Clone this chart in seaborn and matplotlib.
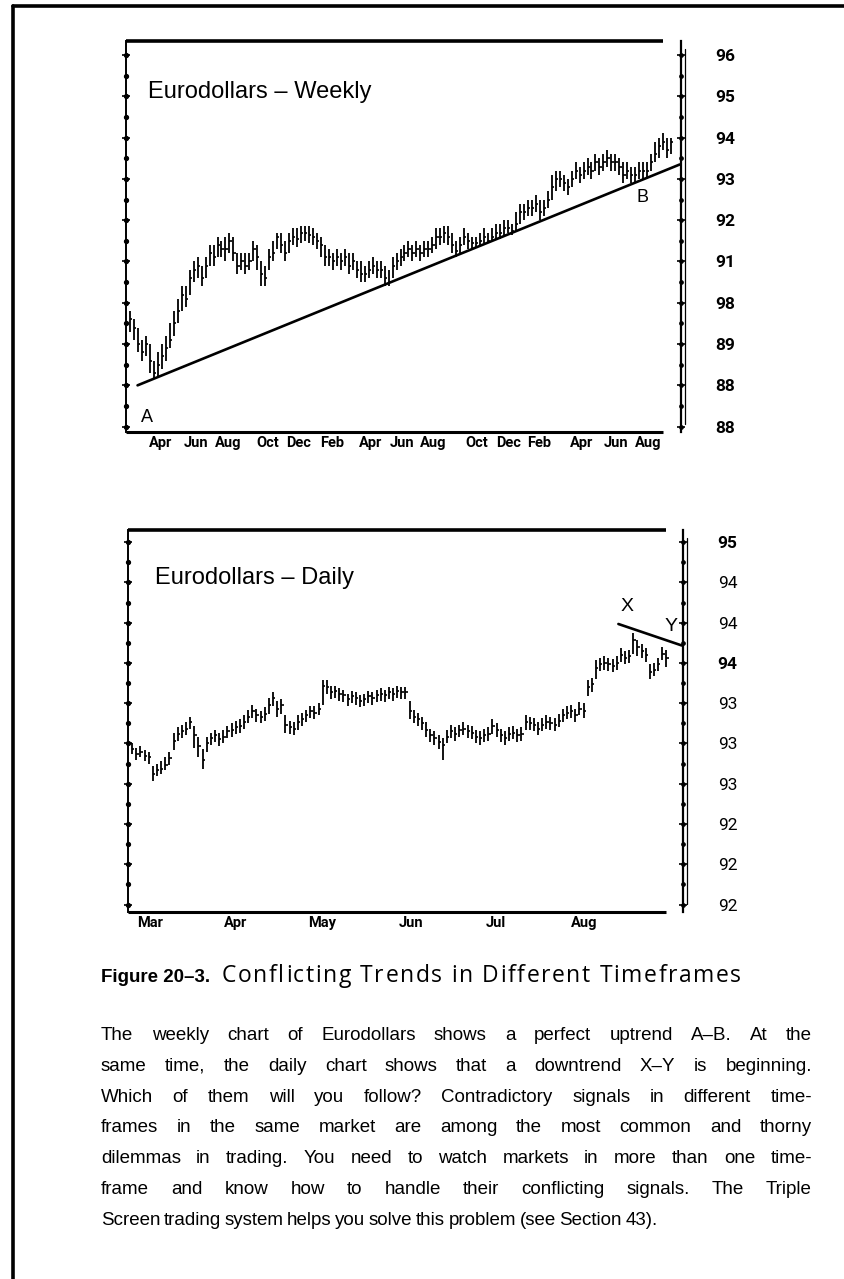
import matplotlib
matplotlib.use("Agg")
import numpy as np
import pandas as pd
import seaborn as sns
from matplotlib import pyplot as plt
from matplotlib.lines import Line2D

sns.set_theme(style="white")
plt.rcParams['font.family'] = ['Liberation Sans', 'DejaVu Sans']
plt.rcParams['text.color'] = 'black'
plt.rcParams['xtick.color'] = 'black'
plt.rcParams['ytick.color'] = 'black'
plt.rcParams['axes.edgecolor'] = 'black'

# ---------------- weekly chart data (price) ----------------
wk_close = [89.6, 89.4, 89.0, 88.8, 89.0, 88.6, 88.3, 88.5, 88.7, 88.9,
            89.1, 89.5, 89.8, 90.2, 90.1, 90.6, 90.8, 90.9, 90.6, 90.9,
            91.2, 91.1, 91.4, 91.3, 91.3, 91.5, 91.2, 90.9, 91.0, 90.9,
            91.0, 91.3, 91.1, 90.7, 90.6, 91.1, 91.2, 91.6, 91.4, 91.2,
            91.5, 91.6, 91.55, 91.7, 91.7, 91.65, 91.6, 91.5, 91.4, 91.1,
            91.1, 91.0, 91.1, 91.0, 91.1, 90.9, 91.0, 90.8, 90.7, 90.7,
            90.8, 90.9, 90.8, 90.8, 90.6, 90.5, 90.9, 91.0, 91.1, 91.2,
            91.3, 91.2, 91.3, 91.2, 91.3, 91.3, 91.4, 91.6, 91.6, 91.7,
            91.6, 91.4, 91.25, 91.4, 91.6, 91.5, 91.45, 91.45, 91.5, 91.6,
            91.5, 91.6, 91.7, 91.7, 91.8, 91.8, 91.75, 91.9, 92.2, 92.2,
            92.3, 92.3, 92.4, 92.2, 92.3, 92.5, 92.8, 93.0, 93.0, 92.9,
            92.8, 93.0, 93.2, 93.1, 93.2, 93.3, 93.2, 93.4, 93.3, 93.4,
            93.5, 93.4, 93.4, 93.3, 93.1, 93.2, 93.1, 93.1, 93.2, 93.2,
            93.2, 93.4, 93.6, 93.8, 93.9, 93.7, 93.9]
wk_high = [89.8, 89.6, 89.4, 89.1, 89.2, 89.0, 88.6, 88.8, 89.0, 89.2,
           89.5, 89.8, 90.1, 90.4, 90.4, 90.8, 91.0, 91.1, 90.9, 91.1,
           91.4, 91.4, 91.6, 91.5, 91.6, 91.7, 91.6, 91.2, 91.2, 91.2,
           91.2, 91.5, 91.4, 91.0, 90.9, 91.3, 91.5, 91.7, 91.7, 91.5,
           91.7, 91.8, 91.8, 91.85, 91.85, 91.85, 91.8, 91.7, 91.6, 91.4,
           91.3, 91.2, 91.3, 91.2, 91.3, 91.2, 91.2, 91.0, 91.0, 90.9,
           91.0, 91.1, 91.0, 91.0, 90.9, 90.8, 91.1, 91.2, 91.3, 91.4,
           91.5, 91.4, 91.5, 91.4, 91.5, 91.5, 91.6, 91.8, 91.8, 91.85,
           91.85, 91.7, 91.5, 91.6, 91.8, 91.7, 91.6, 91.6, 91.7, 91.8,
           91.7, 91.8, 91.9, 91.9, 92.0, 92.0, 91.9, 92.2, 92.4, 92.4,
           92.5, 92.5, 92.6, 92.5, 92.5, 92.7, 93.1, 93.2, 93.2, 93.1,
           93.0, 93.2, 93.4, 93.3, 93.4, 93.5, 93.4, 93.6, 93.5, 93.6,
           93.7, 93.6, 93.6, 93.5, 93.4, 93.4, 93.3, 93.3, 93.4, 93.4,
           93.4, 93.6, 93.9, 94.0, 94.1, 94.0, 94.0]
wk_low = [89.3, 89.1, 88.8, 88.6, 88.7, 88.3, 88.15, 88.2, 88.4, 88.6,
          88.9, 89.2, 89.5, 89.8, 89.9, 90.2, 90.5, 90.6, 90.4, 90.6,
          90.9, 90.9, 91.1, 91.1, 91.0, 91.2, 91.0, 90.7, 90.8, 90.7,
          90.8, 91.0, 90.8, 90.4, 90.4, 90.8, 91.0, 91.3, 91.2, 91.0,
          91.2, 91.4, 91.35, 91.45, 91.5, 91.45, 91.4, 91.3, 91.1, 90.9,
          90.9, 90.8, 90.9, 90.8, 90.9, 90.7, 90.8, 90.6, 90.5, 90.5,
          90.6, 90.7, 90.6, 90.6, 90.4, 90.4, 90.6, 90.8, 90.9, 91.0,
          91.1, 91.0, 91.1, 91.0, 91.1, 91.1, 91.2, 91.3, 91.4, 91.45,
          91.4, 91.2, 91.1, 91.2, 91.4, 91.3, 91.3, 91.35, 91.4, 91.45,
          91.45, 91.5, 91.55, 91.55, 91.6, 91.7, 91.65, 91.75, 91.9, 92.0,
          92.1, 92.1, 92.2, 92.0, 92.1, 92.3, 92.5, 92.7, 92.8, 92.7,
          92.6, 92.8, 93.0, 92.9, 93.0, 93.1, 93.0, 93.2, 93.1, 93.2,
          93.3, 93.2, 93.2, 93.1, 92.9, 93.0, 92.9, 92.9, 93.0, 93.0,
          93.0, 93.2, 93.4, 93.5, 93.7, 93.5, 93.6]
wk_week = np.arange(1, len(wk_close) + 1)

wk_month_pos = [8.8, 17.7, 25.7, 35.6, 43.4, 51.7, 61.6, 69.4, 77.2,
                88.1, 96.1, 103.9, 114.5, 123.1, 131.2]
wk_month_lab = ['Apr', 'Jun', 'Aug', 'Oct', 'Dec', 'Feb', 'Apr', 'Jun',
                'Aug', 'Oct', 'Dec', 'Feb', 'Apr', 'Jun', 'Aug']
wk_price_ticks = [96, 95, 94, 93, 92, 91, 90, 89, 88, 87]
wk_price_lab = ['96', '95', '94', '93', '92', '91', '98', '89', '88', '88']
wk_trend_x = [2.9, 139.2]     # line A-B
wk_trend_y = [88.0, 93.35]

# ---------------- daily chart data ----------------
dy_close = [93.46, 93.42, 93.44, 93.41, 93.40, 93.27, 93.30, 93.31, 93.34, 93.39,
            93.52, 93.57, 93.59, 93.61, 93.66, 93.56, 93.48, 93.38, 93.50, 93.54,
            93.56, 93.53, 93.55, 93.59, 93.60, 93.62, 93.63, 93.66, 93.70, 93.74,
            93.71, 93.70, 93.72, 93.79, 93.84, 93.76, 93.79, 93.64, 93.62, 93.61,
            93.66, 93.68, 93.71, 93.74, 93.73, 93.76, 93.93, 93.92, 93.88, 93.89,
            93.87, 93.86, 93.83, 93.85, 93.84, 93.82, 93.83, 93.85, 93.84, 93.86,
            93.87, 93.86, 93.88, 93.87, 93.89, 93.88, 93.88, 93.74, 93.70, 93.68,
            93.65, 93.60, 93.56, 93.54, 93.51, 93.49, 93.55, 93.59, 93.57, 93.60,
            93.61, 93.59, 93.58, 93.55, 93.54, 93.56, 93.57, 93.63, 93.60, 93.56,
            93.54, 93.57, 93.58, 93.56, 93.57, 93.66, 93.65, 93.64, 93.61, 93.64,
            93.66, 93.65, 93.64, 93.67, 93.71, 93.73, 93.74, 93.71, 93.76, 93.74,
            93.92, 93.94, 94.06, 94.09, 94.10, 94.09, 94.08, 94.10, 94.16, 94.14,
            94.15, 94.27, 94.22, 94.19, 94.16, 94.03, 94.05, 94.09, 94.17, 94.14]
dy_high = [93.50, 93.47, 93.48, 93.45, 93.44, 93.33, 93.35, 93.37, 93.40, 93.44,
           93.58, 93.62, 93.64, 93.66, 93.70, 93.63, 93.55, 93.46, 93.55, 93.58,
           93.60, 93.58, 93.60, 93.63, 93.65, 93.67, 93.68, 93.71, 93.75, 93.79,
           93.76, 93.74, 93.77, 93.84, 93.88, 93.82, 93.83, 93.71, 93.67, 93.66,
           93.71, 93.73, 93.75, 93.78, 93.78, 93.80, 93.97, 93.97, 93.93, 93.93,
           93.91, 93.90, 93.87, 93.89, 93.88, 93.86, 93.87, 93.89, 93.88, 93.90,
           93.91, 93.90, 93.92, 93.91, 93.93, 93.92, 93.92, 93.82, 93.75, 93.73,
           93.70, 93.66, 93.61, 93.59, 93.56, 93.54, 93.60, 93.64, 93.62, 93.64,
           93.66, 93.64, 93.63, 93.60, 93.59, 93.61, 93.62, 93.68, 93.65, 93.61,
           93.59, 93.62, 93.63, 93.61, 93.62, 93.71, 93.70, 93.69, 93.66, 93.69,
           93.71, 93.70, 93.69, 93.72, 93.76, 93.78, 93.79, 93.76, 93.81, 93.80,
           93.97, 93.99, 94.12, 94.14, 94.15, 94.14, 94.13, 94.15, 94.21, 94.19,
           94.20, 94.32, 94.27, 94.24, 94.21, 94.09, 94.10, 94.14, 94.22, 94.20]
dy_low = [93.42, 93.38, 93.40, 93.37, 93.35, 93.22, 93.26, 93.27, 93.30, 93.34,
          93.45, 93.52, 93.54, 93.56, 93.61, 93.47, 93.40, 93.31, 93.44, 93.49,
          93.51, 93.48, 93.50, 93.54, 93.55, 93.57, 93.58, 93.61, 93.65, 93.69,
          93.66, 93.65, 93.67, 93.72, 93.78, 93.70, 93.72, 93.58, 93.57, 93.56,
          93.60, 93.63, 93.66, 93.69, 93.68, 93.71, 93.79, 93.87, 93.83, 93.84,
          93.82, 93.81, 93.78, 93.80, 93.79, 93.77, 93.78, 93.80, 93.79, 93.81,
          93.82, 93.81, 93.83, 93.82, 93.84, 93.83, 93.83, 93.68, 93.65, 93.63,
          93.60, 93.55, 93.51, 93.49, 93.46, 93.38, 93.50, 93.54, 93.52, 93.55,
          93.56, 93.54, 93.53, 93.50, 93.49, 93.51, 93.52, 93.57, 93.55, 93.51,
          93.49, 93.52, 93.53, 93.51, 93.52, 93.60, 93.60, 93.59, 93.56, 93.59,
          93.61, 93.60, 93.59, 93.62, 93.66, 93.68, 93.69, 93.66, 93.71, 93.69,
          93.85, 93.88, 93.98, 94.04, 94.05, 94.04, 94.03, 94.05, 94.11, 94.09,
          94.10, 94.17, 94.15, 94.14, 94.11, 93.98, 94.00, 94.04, 94.12, 94.07]
dy_day = np.arange(1, len(dy_close) + 1)

dy_month_pos = [5.3, 26.0, 46.9, 68.3, 88.7, 110.1]
dy_month_lab = ['Mar', 'Apr', 'May', 'Jun', 'Jul', 'Aug']
dy_price_ticks = [95.0, 94.7, 94.4, 94.1, 93.8, 93.5, 93.2, 92.9, 92.6, 92.3]
dy_price_lab = ['95', '94', '94', '94', '93', '93', '93', '92', '92', '92']
dy_trend_x = [118.4, 133.7]   # line X-Y
dy_trend_y = [94.39, 94.23]

caption_num = 'Figure 20–3.'
caption_txt = 'Conflicting Trends in Different Timeframes'
body = [
    'The weekly chart of Eurodollars shows a perfect uptrend A–B. At the',
    'same time, the daily chart shows that a downtrend X–Y is beginning.',
    'Which of them will you follow? Contradictory signals in different time-',
    'frames in the same market are among the most common and thorny',
    'dilemmas in trading. You need to watch markets in more than one time-',
    'frame and know how to handle their conflicting signals. The Triple',
    'Screen trading system helps you solve this problem (see Section 43).',
]

W, H = 845, 1279
fig = plt.figure(figsize=(W / 100, H / 100), dpi=100)
fig.patch.set_facecolor('white')

NARROW = ['Liberation Sans Narrow', 'Roboto', 'DejaVu Sans']


def add_ax(l, t, r, b):
    return fig.add_axes([l / W, 1 - b / H, (r - l) / W, (b - t) / H])


def bar_chart(ax, x, lo, hi, cl, tick):
    ax.vlines(x, lo, hi, color='black', lw=1.3)
    ax.hlines(cl, x, np.asarray(x) + tick, color='black', lw=1.2)


def frame(ax, top_end, minor):
    for s in ['top', 'bottom']:
        ax.spines[s].set_visible(False)
    ax.spines['left'].set_linewidth(1.4)
    ax.spines['right'].set_linewidth(1.6)
    ax.plot([0, top_end], [1, 1], color='black', lw=2.6,
            transform=ax.transAxes, clip_on=False, solid_capstyle='butt')
    ax.plot([0, top_end], [0, 0], color='black', lw=2.2,
            transform=ax.transAxes, clip_on=False, solid_capstyle='butt')
    ax.plot([1.008, 1.008], [0.02, 0.98], color='black', lw=0.9,
            transform=ax.transAxes, clip_on=False)
    tr = ax.get_yaxis_transform()
    ax.plot(np.zeros(len(minor)), minor, 'o', ms=2.8, color='black',
            transform=tr, clip_on=False)
    ax.plot(np.ones(len(minor)), minor, 'o', ms=2.4, color='black',
            transform=tr, clip_on=False)
    ax.tick_params(axis='y', which='both', left=True, right=True,
                   direction='inout', length=6, width=1.2, color='black',
                   labelleft=False, labelright=True, pad=22)
    ax.tick_params(axis='x', length=0, pad=3)
    ax.grid(False)
    ax.set_facecolor('white')
    ax.set_xlabel('')
    ax.set_ylabel('')


def style_labels(labels, size, bold_idx=None):
    for i, t in enumerate(labels):
        t.set_fontfamily(NARROW)
        t.set_fontsize(size)
        t.set_color('black')
        if bold_idx is None or i in bold_idx:
            t.set_fontweight('bold')


# ---------------- weekly ----------------
ax1 = add_ax(126, 41, 681, 432)
bar_chart(ax1, wk_week, wk_low, wk_high, wk_close, 0.55)
sns.lineplot(x=wk_trend_x, y=wk_trend_y, ax=ax1, color='black', lw=1.9)
ax1.set_xlim(0, 139.5)
ax1.set_ylim(86.87, 96.34)
ax1.set_yticks(wk_price_ticks, wk_price_lab)
frame(ax1, 0.968, np.arange(87, 96.01, 0.5))
ax1.set_xticks(wk_month_pos, wk_month_lab)
style_labels(ax1.get_xticklabels(), 10.5)
style_labels(ax1.get_yticklabels(), 12.5)
ax1.text(5.5, 95.1, 'Eurodollars – Weekly', fontsize=17, va='center', ha='left')
ax1.text(5.3, 87.21, 'A', fontsize=13, va='center', ha='center')
ax1.text(129.7, 92.55, 'B', fontsize=13, va='center', ha='center')

# ---------------- daily ----------------
ax2 = add_ax(128, 530, 683, 912)
bar_chart(ax2, dy_day, dy_low, dy_high, dy_close, 0.55)
sns.lineplot(x=dy_trend_x, y=dy_trend_y, ax=ax2, color='black', lw=1.9)
ax2.set_xlim(0, 134)
ax2.set_ylim(92.245, 95.09)
ax2.set_yticks(dy_price_ticks, dy_price_lab)
frame(ax2, 0.97, np.arange(92.3, 95.01, 0.15))
ax2.set_xticks(dy_month_pos, dy_month_lab)
style_labels(ax2.get_xticklabels(), 10.5)
style_labels(ax2.get_yticklabels(), 12.5, bold_idx=(0, 3))
ax2.text(6.5, 94.73, 'Eurodollars – Daily', fontsize=17, va='center', ha='left')
ax2.text(120.5, 94.52, 'X', fontsize=14, va='center', ha='center')
ax2.text(131.0, 94.37, 'Y', fontsize=14, va='center', ha='center')

# ---------------- page frame ----------------
fig.add_artist(Line2D([13 / W, 13 / W], [0, 1 - 6 / H], color='black', lw=2.6,
                      transform=fig.transFigure))
fig.add_artist(Line2D([13 / W, 1], [1 - 6 / H, 1 - 6 / H], color='black', lw=2.6,
                      transform=fig.transFigure))

# ---------------- caption and text ----------------
renderer = fig.canvas.get_renderer()


def text_width(s, size, **kw):
    t = fig.text(0, 0, s, fontsize=size, **kw)
    w = t.get_window_extent(renderer).width
    t.remove()
    return w


def justify(line, y, x0, x1, last=False, size=13.5, gap_last=3.5, **kw):
    words = line.split(' ')
    texts = [fig.text(0, 1 - y / H, w, fontsize=size, va='baseline', ha='left', **kw)
             for w in words]
    widths = [t.get_window_extent(renderer).width for t in texts]
    if last or len(words) == 1:
        gap = gap_last
    else:
        gap = (x1 - x0 - sum(widths)) / (len(words) - 1)
    x = x0
    for t, w in zip(texts, widths):
        t.set_x(x / W)
        x += w + gap


def tracked(s, y, x0, x1, size, **kw):
    # letter-spaced line filling x0..x1
    space = text_width('x x', size, **kw) - text_width('xx', size, **kw)
    items = []
    for ch in s:
        if ch == ' ':
            items.append((None, space))
        else:
            t = fig.text(0, 1 - y / H, ch, fontsize=size, va='baseline', ha='left', **kw)
            items.append((t, t.get_window_extent(renderer).width))
    extra = (x1 - x0 - sum(w for _, w in items)) / (len(items) - 1)
    x = x0
    for t, w in items:
        if t is not None:
            t.set_x(x / W)
        x += w + extra


fig.text(101 / W, 1 - 982 / H, caption_num, fontsize=13.5, fontweight='bold',
         va='baseline', ha='left')
tracked(caption_txt, 982, 222, 741, 16.5, family=['Open Sans', 'DejaVu Sans'])

for i, line in enumerate(body):
    justify(line, 1040 + i * 30.8, 101, 812, last=(i == len(body) - 1))

fig.savefig('out.png', dpi=100, facecolor='white')
